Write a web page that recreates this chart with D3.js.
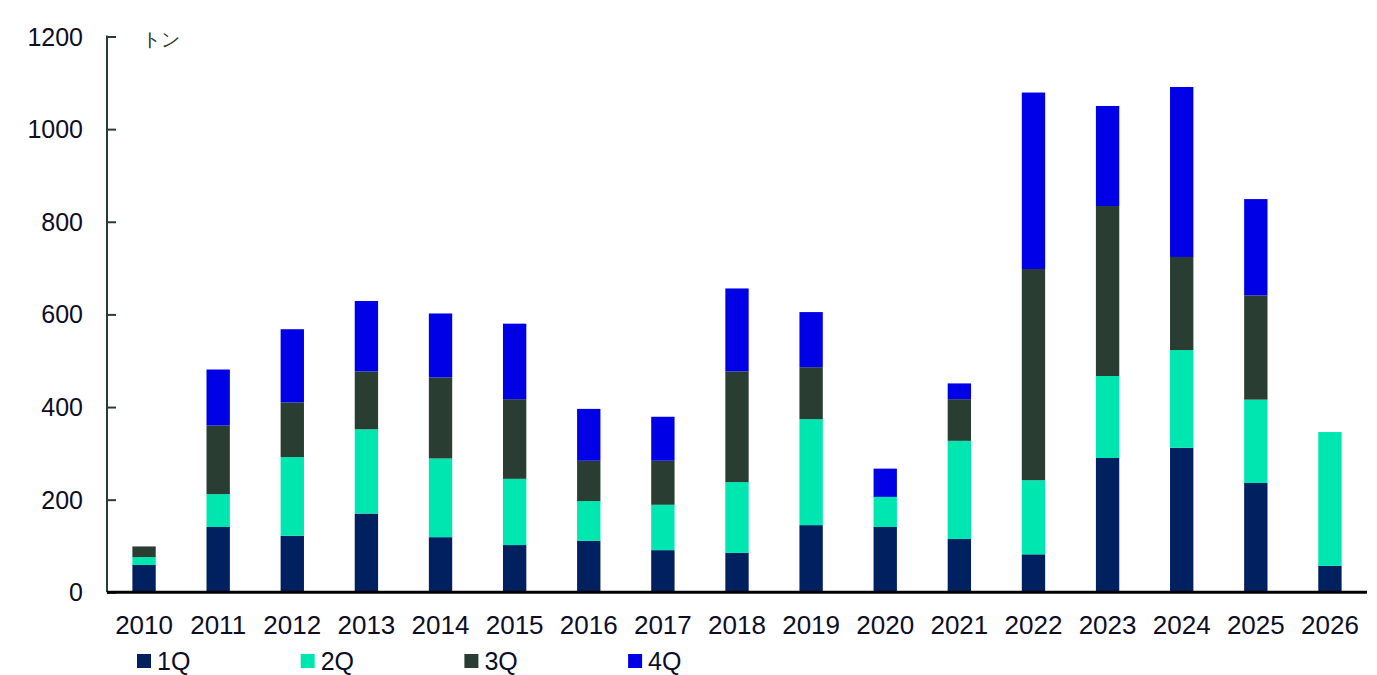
<!DOCTYPE html>
<html>
<head>
<meta charset="utf-8">
<script src="https://cdn.jsdelivr.net/npm/d3@7"></script>
<style>
  body { margin: 0; background: #fff; }
  text { font-family: "Liberation Sans", Arial, sans-serif; }
</style>
</head>
<body>
<div id="graphics"></div>
<script>
var years = ["2010","2011","2012","2013","2014","2015","2016","2017","2018",
             "2019","2020","2021","2022","2023","2024","2025","2026"];
var q1 = [59, 141, 122, 170, 119, 102, 111, 91, 85, 145, 141, 115, 82, 290, 312, 236, 57];
var q2 = [17, 71, 170, 182, 170, 143, 86, 98, 153, 229, 65, 212, 160, 177, 211, 180, 289];
var q3 = [23, 148, 118, 125, 175, 172, 87, 95, 239, 112, 0, 90, 456, 367, 201, 225, 0];
var q4 = [0, 121, 158, 152, 138, 163, 112, 95, 179, 119, 61, 34, 381, 216, 367, 208, 0];
var seriesNames = ["1Q", "2Q", "3Q", "4Q"];
var yTicks = [0, 200, 400, 600, 800, 1000, 1200];

var colors = ["#002060", "#00e6b0", "#293d33", "#0000e6"];
var textColor = "#0d0d26";

var w = 1377, h = 675;
var plotLeft = 107, plotRight = 1367, plotTop = 36.5, plotBottom = 592.3;

var svg = d3.select("#graphics")
  .append("svg")
  .attr("width", w)
  .attr("height", h);

var rows = years.map(function(yr, i) {
  return { year: yr, "1Q": q1[i], "2Q": q2[i], "3Q": q3[i], "4Q": q4[i] };
});

var layers = d3.stack().keys(seriesNames)(rows);

var x = d3.scaleBand()
  .domain(years)
  .range([plotLeft, plotRight])
  .paddingInner(0.685)
  .paddingOuter(0.3425);

var y = d3.scaleLinear()
  .domain([0, 1200])
  .range([plotBottom, plotTop]);

// bars
svg.selectAll("g.layer")
  .data(layers)
  .enter()
  .append("g")
  .attr("class", "layer")
  .attr("fill", function(d, i) { return colors[i]; })
  .selectAll("rect")
  .data(function(d) { return d; })
  .enter()
  .append("rect")
  .attr("x", function(d) { return x(d.data.year); })
  .attr("y", function(d) { return y(d[1]); })
  .attr("width", x.bandwidth())
  .attr("height", function(d) { return Math.max(0, y(d[0]) - y(d[1])); });

// y axis, ticks point inward
var yAxis = d3.axisRight(y)
  .tickValues(yTicks)
  .tickSize(9)
  .tickFormat("");
var gy = svg.append("g")
  .attr("transform", "translate(" + plotLeft + ",0)")
  .call(yAxis);
gy.select(".domain").remove();
gy.selectAll(".tick line").attr("stroke", "#293d33").attr("stroke-width", 2);
svg.append("line")
  .attr("x1", plotLeft).attr("x2", plotLeft)
  .attr("y1", y(1200) - 1).attr("y2", plotBottom)
  .attr("stroke", "#293d33")
  .attr("stroke-width", 2);

svg.selectAll("text.ylab")
  .data(yTicks)
  .enter()
  .append("text")
  .attr("class", "ylab")
  .attr("x", 83)
  .attr("y", function(d) { return y(d); })
  .attr("dy", "0.36em")
  .attr("text-anchor", "end")
  .attr("font-size", "25px")
  .attr("fill", textColor)
  .text(function(d) { return d; });

// x axis
svg.append("line")
  .attr("x1", plotLeft).attr("x2", plotRight)
  .attr("y1", y(0)).attr("y2", y(0))
  .attr("stroke", "#000")
  .attr("stroke-width", 3);

svg.selectAll("text.xlab")
  .data(years)
  .enter()
  .append("text")
  .attr("class", "xlab")
  .attr("x", function(d) { return x(d) + x.bandwidth() / 2; })
  .attr("y", 634)
  .attr("text-anchor", "middle")
  .attr("font-size", "26px")
  .attr("fill", textColor)
  .text(function(d) { return d; });

// unit label
svg.append("text")
  .attr("x", 142)
  .attr("y", 46)
  .attr("font-family", "'Noto Sans CJK JP', sans-serif")
  .attr("font-size", "19px")
  .attr("fill", "#333")
  .text("トン");

// legend
var legend = svg.selectAll("g.legend")
  .data(seriesNames)
  .enter()
  .append("g")
  .attr("class", "legend")
  .attr("transform", function(d, i) { return "translate(" + (137 + i * 163.7) + ",654)"; });

legend.append("rect")
  .attr("width", 14)
  .attr("height", 14)
  .attr("fill", function(d, i) { return colors[i]; });

legend.append("text")
  .attr("x", 20)
  .attr("y", 7)
  .attr("dy", "0.36em")
  .attr("font-size", "25px")
  .attr("fill", textColor)
  .text(function(d) { return d; });
</script>
</body>
</html>
